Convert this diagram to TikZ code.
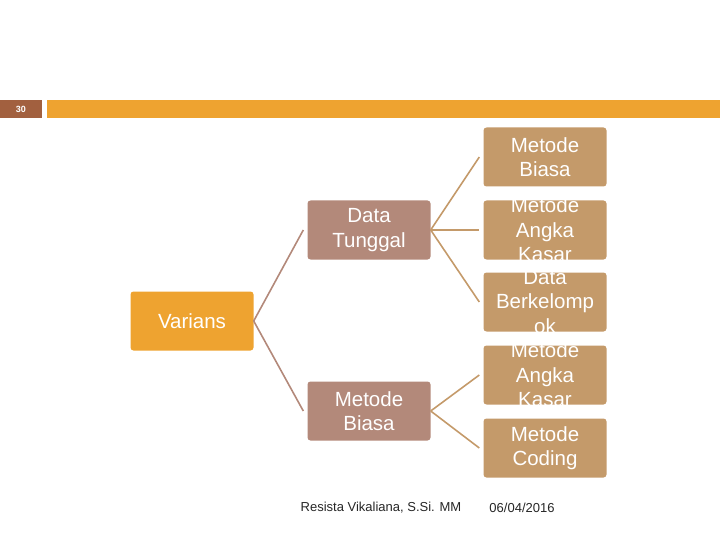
\documentclass[tikz,border=0pt]{standalone}
\usepackage{fontspec}
\setmainfont{Liberation Sans}
\begin{document}
\begin{tikzpicture}[x=1pt,y=-1pt,
  box/.style={rounded corners=3pt,inner sep=0pt,minimum width=123pt,minimum height=59pt},
  lbl/.style={text=white,align=center,inner sep=0pt,font=\fontsize{20.5}{24.5}\selectfont},
  lvl0/.style={box,fill=vorange},
  lvl1/.style={box,fill=vrose},
  lvl2/.style={box,fill=vtan},
  conn/.style={draw=vtan,line width=1.6pt}]
\definecolor{vorange}{HTML}{EEA330}
\definecolor{vrose}{HTML}{B3897A}
\definecolor{vtan}{HTML}{C49A6A}
\definecolor{vbrown}{HTML}{A2603F}
\useasboundingbox (0,0) rectangle (720,540);
\fill[vbrown] (0,100) rectangle (42,118);
\node[text=white,font=\fontsize{9}{10}\selectfont\bfseries] (num) at (21,109) {30};
\fill[vorange] (47,100) rectangle (720,118);
\node[lvl0] (v) at (192,321) {};
\node[lvl1] (dt) at (369,230) {};
\node[lvl1] (mb) at (369,411) {};
\node[lvl2] (r1) at (545,157) {};
\node[lvl2] (r2) at (545,230) {};
\node[lvl2] (r3) at (545,302) {};
\node[lvl2] (r4) at (545,375) {};
\node[lvl2] (r5) at (545,448) {};
\node[lbl] (tv) at (v) {Varians};
\node[lbl] (tdt) at (dt) {Data\\Tunggal};
\node[lbl] (tmb) at (mb) {Metode\\Biasa};
\node[lbl] (t1) at (r1) {Metode\\Biasa};
\node[lbl] (t2) at (r2) {Metode\\Angka\\Kasar};
\node[lbl] (t3) at (r3) {Data\\Berkelomp\\ok};
\node[lbl] (t4) at (r4) {Metode\\Angka\\Kasar};
\node[lbl] (t5) at (r5) {Metode\\Coding};
\draw[conn,draw=vrose] (v.east) -- ([xshift=-4pt]dt.west);
\draw[conn,draw=vrose] (v.east) -- ([xshift=-4pt]mb.west);
\foreach \t in {r1,r2,r3} \draw[conn] (dt.east) -- ([xshift=-4pt]\t.west);
\foreach \t in {r4,r5} \draw[conn] (mb.east) -- ([xshift=-4pt]\t.west);
\node[font=\fontsize{13}{15}\selectfont,text=black!85] (au) at (381,508) {Resista Vikaliana, S.Si. MM};
\node[font=\fontsize{13}{15}\selectfont,text=black!85] (dd) at (522,508) {06/04/2016};
\end{tikzpicture}
\end{document}
